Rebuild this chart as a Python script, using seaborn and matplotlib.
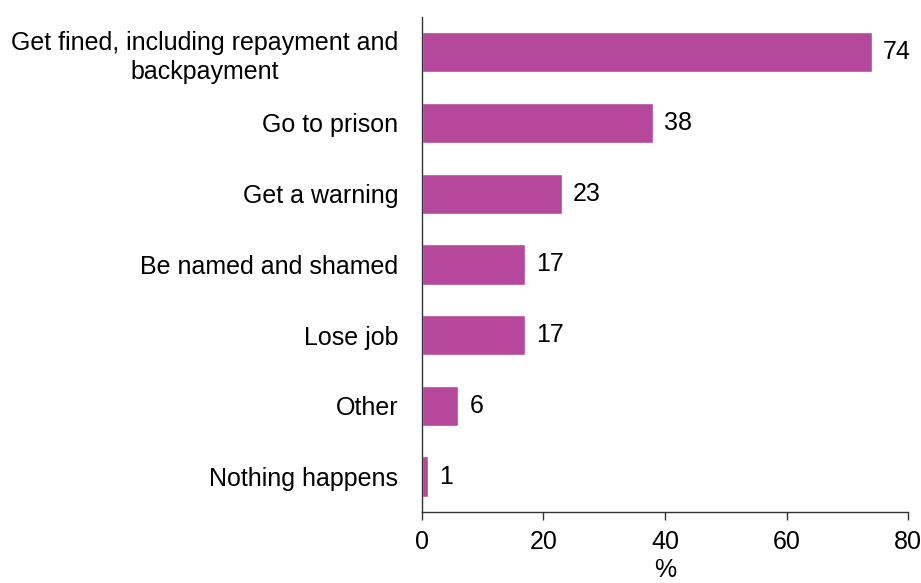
import matplotlib
matplotlib.use("Agg")
import matplotlib.pyplot as plt
import seaborn as sns
import pandas as pd

categories = [
    "Get fined, including repayment and\nbackpayment",
    "Go to prison",
    "Get a warning",
    "Be named and shamed",
    "Lose job",
    "Other",
    "Nothing happens",
]
values = [74, 38, 23, 17, 17, 6, 1]
x_ticks = [0, 20, 40, 60, 80]
bar_color = "#B5489A"

sns.set_theme(style="white")
plt.rcParams["font.family"] = ["Liberation Sans", "DejaVu Sans"]
plt.rcParams["text.color"] = "black"
plt.rcParams["xtick.color"] = "black"
plt.rcParams["ytick.color"] = "black"
plt.rcParams["axes.labelcolor"] = "black"

df = pd.DataFrame({"category": categories, "value": values})

fig = plt.figure(figsize=(9.21, 5.83), dpi=100)
ax = fig.add_axes([0.458, 0.122, 0.528, 0.849])

sns.barplot(data=df, y="category", x="value", orient="h", color=bar_color,
            saturation=1, width=0.57, ax=ax)

ax.set_xlim(0, 80)
ax.set_xticks(x_ticks)
ax.set_xticklabels([str(t) for t in x_ticks], fontsize=18)
ax.set_ylabel("")
ax.set_xlabel("%", fontsize=18, labelpad=3)
ax.tick_params(axis="x", direction="out", length=5.8, width=1, color="#333333",
               pad=7, bottom=True)
ax.tick_params(axis="y", length=0, pad=17, labelsize=18)
for lbl in ax.get_yticklabels():
    lbl.set_multialignment("center")
    lbl.set_linespacing(1.25)

for s in ["top", "right"]:
    ax.spines[s].set_visible(False)
for s in ["left", "bottom"]:
    ax.spines[s].set_color("#333333")
    ax.spines[s].set_linewidth(1)

for container in ax.containers:
    ax.bar_label(container, labels=[str(v) for v in values], padding=8,
                 fontsize=18, color="black")

fig.savefig("out.png", dpi=100)
